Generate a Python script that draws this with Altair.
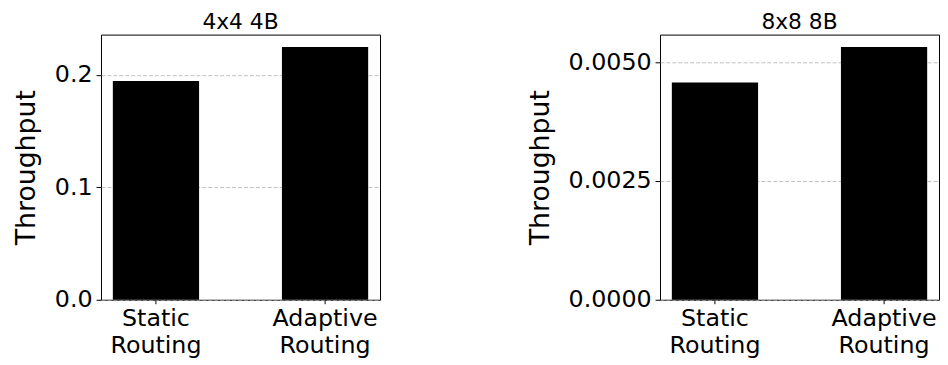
import altair as alt
import pandas as pd

categories = ["Static Routing", "Adaptive Routing"]
values_4x4 = [0.1947, 0.2249]
values_8x8 = [0.00457, 0.00532]
titles = ["4x4 4B", "8x8 8B"]

FONT = "DejaVu Sans"


def panel(vals, title, domain_max, ticks, fmt):
    df = pd.DataFrame({"cat": categories, "val": vals})
    return (
        alt.Chart(df)
        .mark_bar(color="black")
        .encode(
            x=alt.X(
                "cat:N",
                sort=categories,
                scale=alt.Scale(paddingInner=0.49, paddingOuter=0.07),
                axis=alt.Axis(
                    title=None,
                    labelAngle=0,
                    labelExpr="split(datum.label, ' ')",
                    labelFontSize=24,
                    labelLineHeight=27,
                    labelPadding=3,
                    tickSize=4,
                    domain=False,
                    grid=False,
                    labelColor="black",
                    tickColor="black",
                ),
            ),
            y=alt.Y(
                "val:Q",
                scale=alt.Scale(domain=[0, domain_max], nice=False, zero=True),
                axis=alt.Axis(
                    title="Throughput",
                    titleFontSize=27,
                    titleFontWeight="normal",
                    titleColor="black",
                    titlePadding=14,
                    values=ticks,
                    format=fmt,
                    labelFontSize=24,
                    labelColor="black",
                    labelPadding=4,
                    tickSize=5,
                    tickColor="black",
                    domain=False,
                    grid=True,
                    gridColor="#b0b0b0",
                    gridDash=[4, 2],
                    gridWidth=0.8,
                ),
            ),
        )
        .properties(
            width=282,
            height=268,
            title=alt.TitleParams(
                title, fontSize=22, fontWeight="normal", color="black", offset=1, font=FONT
            ),
        )
    )


left = panel(values_4x4, titles[0], 0.236, [0, 0.1, 0.2], ".1f")
right = panel(values_8x8, titles[1], 0.00558, [0, 0.0025, 0.005], ".4f")

chart = (
    alt.hconcat(left, right, spacing=146)
    .properties(padding={"left": 4, "top": 0, "right": 0, "bottom": 0})
    .configure(font=FONT)
    .configure_view(stroke="black", strokeWidth=1)
    .configure_axis(labelFont=FONT, titleFont=FONT)
)

chart.save("out.html", embed_options={"renderer": "svg", "actions": False})
